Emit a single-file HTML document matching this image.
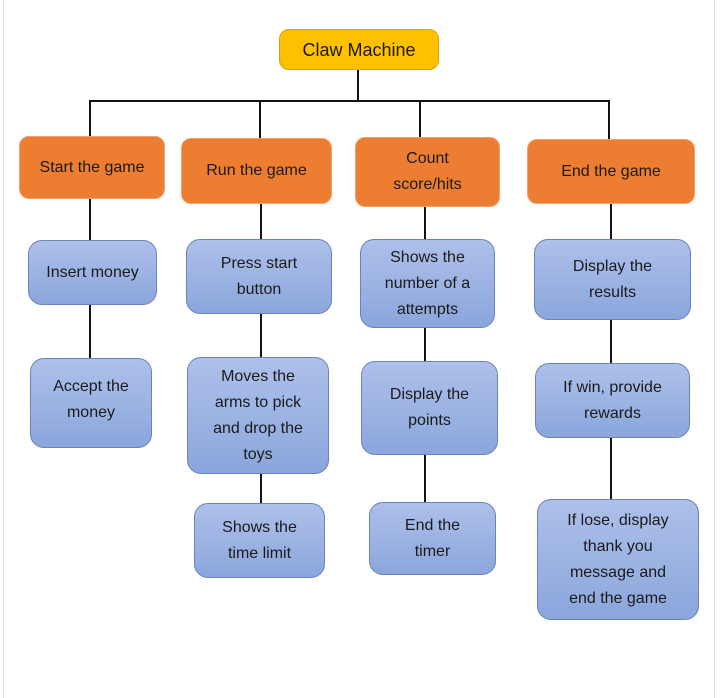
<!DOCTYPE html>
<html><head><style>
body{margin:0;width:720px;height:698px;background:#fff;position:relative;overflow:hidden;font-family:"Liberation Sans",sans-serif;}
.b{position:absolute;box-sizing:border-box;display:flex;align-items:center;justify-content:center;text-align:center;font-size:16px;line-height:26px;color:#1a1a1a;border-radius:10px;}
.y{background:#ffc000;border:1px solid #d9a300;font-size:18px;}
.o{background:#ed7d31;border:1px solid #f2a070;}
.u{background:linear-gradient(#aec0ea,#8ba6dc);border:1px solid #6a83b8;border-radius:14px;}
.v{position:absolute;width:2px;background:#111;}
.h{position:absolute;height:2px;background:#111;}
</style></head><body>
<div style="position:absolute;left:3px;top:0;width:1px;height:698px;background:#ddd"></div>
<div style="position:absolute;left:714px;top:0;width:1px;height:698px;background:#ddd"></div>
<div class="v" style="left:357px;top:70px;height:32px"></div>
<div class="h" style="left:89px;top:100px;width:521px"></div>
<div class="v" style="left:89px;top:100px;height:36px"></div>
<div class="v" style="left:259px;top:100px;height:38px"></div>
<div class="v" style="left:419px;top:100px;height:37px"></div>
<div class="v" style="left:608px;top:100px;height:39px"></div>
<div class="v" style="left:89px;top:199px;height:160px"></div>
<div class="v" style="left:260px;top:204px;height:300px"></div>
<div class="v" style="left:424px;top:207px;height:296px"></div>
<div class="v" style="left:610px;top:204px;height:296px"></div>
<div class="b y" style="left:279px;top:29px;width:160px;height:41px">Claw Machine</div>
<div class="b o" style="left:19px;top:136px;width:146px;height:63px">Start the game</div>
<div class="b o" style="left:181px;top:138px;width:151px;height:66px">Run the game</div>
<div class="b o" style="left:355px;top:137px;width:145px;height:70px">Count<br>score/hits</div>
<div class="b o" style="left:527px;top:139px;width:168px;height:65px">End the game</div>
<div class="b u" style="left:28px;top:240px;width:129px;height:65px">Insert money</div>
<div class="b u" style="left:186px;top:239px;width:146px;height:75px">Press start<br>button</div>
<div class="b u" style="left:360px;top:239px;width:135px;height:89px">Shows the<br>number of a<br>attempts</div>
<div class="b u" style="left:534px;top:239px;width:157px;height:81px">Display the<br>results</div>
<div class="b u" style="left:30px;top:358px;width:122px;height:90px;align-items:flex-start;padding-top:15px">Accept the<br>money</div>
<div class="b u" style="left:187px;top:357px;width:142px;height:117px">Moves the<br>arms to pick<br>and drop the<br>toys</div>
<div class="b u" style="left:361px;top:361px;width:137px;height:94px">Display the<br>points</div>
<div class="b u" style="left:535px;top:363px;width:155px;height:75px">If win, provide<br>rewards</div>
<div class="b u" style="left:194px;top:503px;width:131px;height:75px">Shows the<br>time limit</div>
<div class="b u" style="left:369px;top:502px;width:127px;height:73px">End the<br>timer</div>
<div class="b u" style="left:537px;top:499px;width:162px;height:121px">If lose, display<br>thank you<br>message and<br>end the game</div>
</body></html>
